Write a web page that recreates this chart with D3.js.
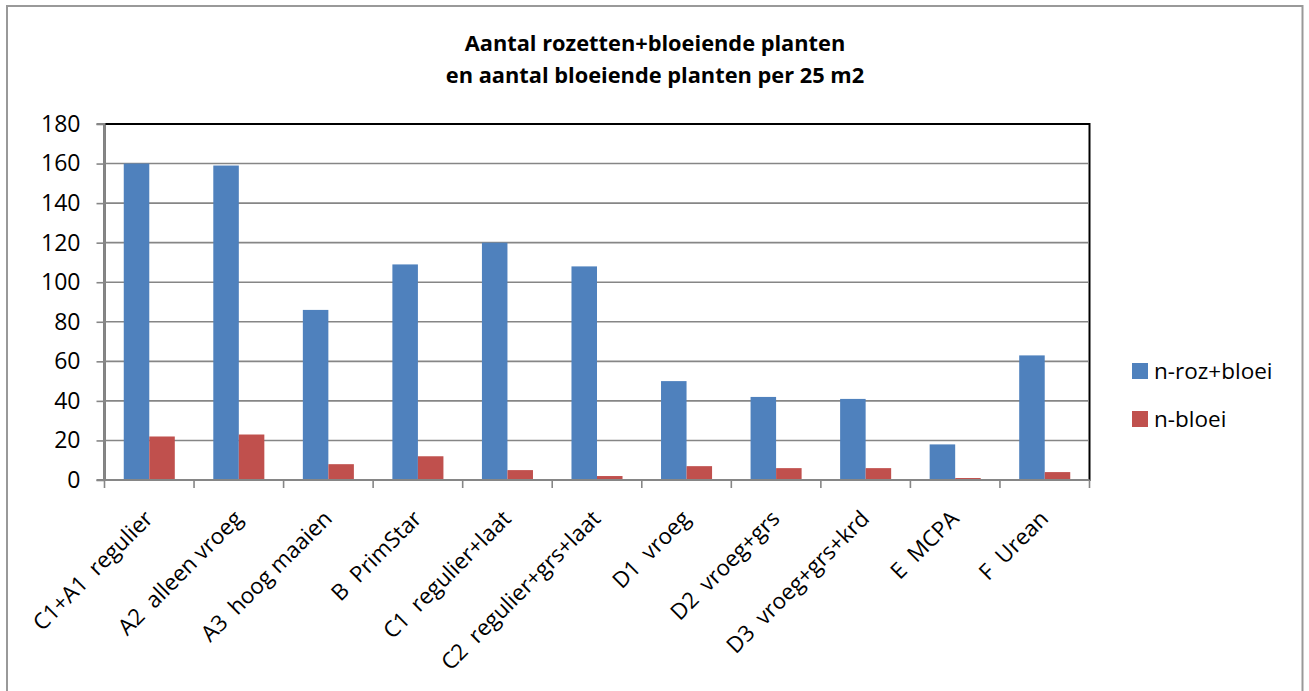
<!DOCTYPE html>
<html>
<head>
<meta charset="utf-8">
<script src="https://cdnjs.cloudflare.com/ajax/libs/d3/7.8.5/d3.min.js"></script>
<style>
html,body{margin:0;padding:0;background:#fff;}
svg{display:block;}
text{font-family:"Open Sans","Noto Sans",sans-serif;fill:#000;white-space:pre;}
</style>
</head>
<body>
<svg id="chart" width="1309" height="691"></svg>
<script>
const categories = ["C1+A1  regulier","A2  alleen vroeg","A3  hoog maaien","B  PrimStar","C1  regulier+laat","C2  regulier+grs+laat","D1  vroeg","D2  vroeg+grs","D3  vroeg+grs+krd","E  MCPA","F  Urean"];
const seriesNames = ["n-roz+bloei","n-bloei"];
const rozBloei = [160,159,86,109,120,108,50,42,41,18,63];
const bloei = [22,23,8,12,5,2,7,6,6,1,4];
const yTicks = [0,20,40,60,80,100,120,140,160,180];
const colors = ["#4F81BD","#C0504D"];
const titleLines = ["Aantal rozetten+bloeiende planten","en aantal bloeiende planten per 25 m2"];

const svg = d3.select("#chart");
const plot = {left:104.5, right:1089.5, top:124, bottom:480};

// outer frame
svg.append("rect").attr("x",7).attr("y",6).attr("width",1295.5).attr("height",700)
  .attr("fill","#fff").attr("stroke","#999").attr("stroke-width",2);

// title
const title = svg.append("text").attr("text-anchor","middle").attr("font-weight","bold").attr("font-size",21.8);
titleLines.forEach((t,i)=>title.append("tspan").attr("x",655).attr("y",51+i*32).text(t));

const x = d3.scaleBand().domain(categories).range([plot.left,plot.right]).paddingInner(0.43).paddingOuter(0.215);
const xs = d3.scaleBand().domain(seriesNames).range([0,x.bandwidth()]);
const xTickScale = d3.scaleBand().domain(categories).range([plot.left,plot.right]);
const y = d3.scaleLinear().domain([0,180]).range([plot.bottom,plot.top]);

// plot area border (black)
svg.append("rect").attr("x",plot.left).attr("y",plot.top).attr("width",plot.right-plot.left).attr("height",plot.bottom-plot.top)
  .attr("fill","none").attr("stroke","#000").attr("stroke-width",2);

// gridlines
svg.append("g").selectAll("line").data(yTicks.filter(d=>d>0 && d<180)).join("line")
  .attr("x1",plot.left).attr("x2",plot.right-1).attr("y1",d=>y(d)).attr("y2",d=>y(d))
  .attr("stroke","#868686").attr("stroke-width",1.6);

// bars
const data = categories.map((c,i)=>({cat:c, vals:[rozBloei[i],bloei[i]]}));
const groups = svg.append("g").selectAll("g").data(data).join("g")
  .attr("transform",d=>`translate(${x(d.cat)},0)`);
groups.selectAll("rect").data(d=>d.vals.map((v,j)=>({name:seriesNames[j],v,j}))).join("rect")
  .attr("x",d=>xs(d.name)).attr("width",xs.bandwidth())
  .attr("y",d=>y(d.v)).attr("height",d=>plot.bottom-y(d.v))
  .attr("fill",d=>colors[d.j]);

// y axis
const yAxis = d3.axisLeft(y).tickValues(yTicks).tickSize(8).tickPadding(16);
const gy = svg.append("g").attr("transform",`translate(${plot.left},0)`).call(yAxis);
gy.select(".domain").attr("stroke","#868686").attr("stroke-width",2).attr("d",`M-8,${plot.top}H0V${plot.bottom}`);
gy.selectAll(".tick line").attr("stroke","#868686").attr("stroke-width",1.6);
gy.selectAll("text").attr("font-size",23).attr("font-family","'Open Sans',sans-serif").attr("fill","#000");

// x axis
const xAxis = d3.axisBottom(xTickScale).tickSize(0).tickFormat("");
const gx = svg.append("g").attr("transform",`translate(0,${plot.bottom})`).call(xAxis);
gx.select(".domain").attr("stroke","#868686").attr("stroke-width",2).attr("d",`M${plot.left-8},0H${plot.right}`);
gx.selectAll(".tick").remove();
const tickPos = categories.map(c=>xTickScale(c)).concat([plot.right]);
gx.selectAll("line.tk").data(tickPos).join("line").attr("class","tk")
  .attr("x1",d=>d).attr("x2",d=>d).attr("y1",0).attr("y2",8)
  .attr("stroke","#868686").attr("stroke-width",1.6);

// x labels rotated
svg.append("g").selectAll("text").data(categories).join("text")
  .attr("text-anchor","end").attr("font-size",22.3)
  .attr("transform",d=>`translate(${xTickScale(d)+xTickScale.bandwidth()/2+5},${plot.bottom+40}) rotate(-45)`)
  .text(d=>d);

// legend
const legend = svg.append("g").selectAll("g").data(seriesNames).join("g")
  .attr("transform",(d,i)=>`translate(1132,${363+i*48})`);
legend.append("rect").attr("width",16).attr("height",16).attr("fill",(d,i)=>colors[i]);
legend.append("text").attr("x",22).attr("y",16).attr("font-size",22.5).text(d=>d);
</script>
</body>
</html>
